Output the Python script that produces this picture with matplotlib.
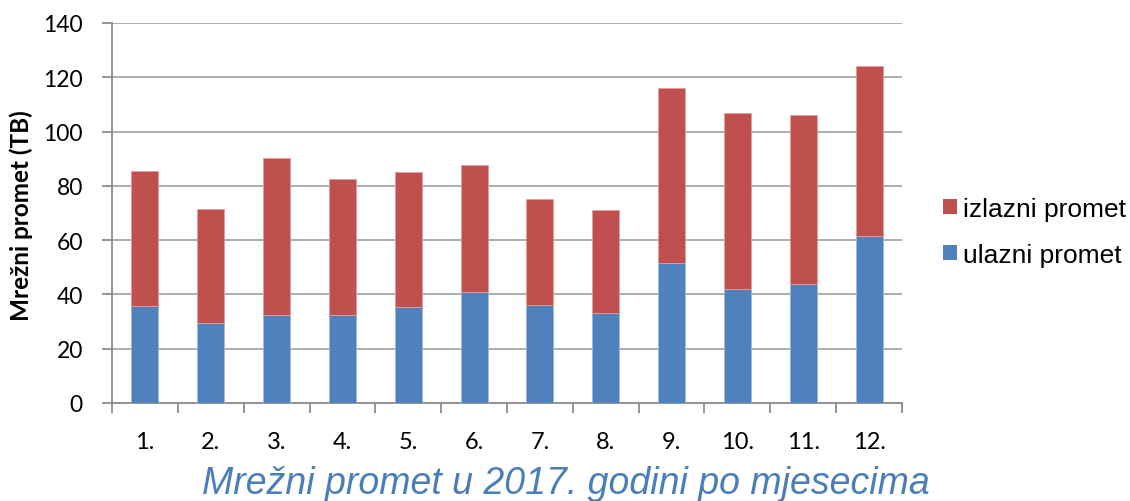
import matplotlib
matplotlib.use("Agg")
import matplotlib.pyplot as plt
from matplotlib.patches import Patch
import numpy as np

months = ["1.", "2.", "3.", "4.", "5.", "6.", "7.", "8.", "9.", "10.", "11.", "12."]
ulazni = [35.7, 29.5, 32.6, 32.4, 35.4, 40.9, 36.0, 33.3, 51.5, 41.9, 43.7, 61.4]
ukupno = [85.5, 71.5, 90.3, 82.5, 85.1, 87.7, 75.0, 71.1, 116.1, 107.0, 106.1, 124.2]
izlazni = [t - u for t, u in zip(ukupno, ulazni)]

blue = "#4F81BD"
red = "#C0504D"
grid_c = "#A6A6A6"

fig = plt.figure(figsize=(11.3, 5.02), dpi=100)
ax = fig.add_axes([112/1130, 98/502, 790/1130, 380/502])

x = np.arange(len(months))
w = 0.41
ax.bar(x, ulazni, w, color=blue, edgecolor="#9DB9DD", linewidth=0.6, zorder=3)
ax.bar(x, izlazni, w, bottom=ulazni, color=red, edgecolor="#E0A0A0", linewidth=0.6, zorder=3)

ax.set_xlim(-0.5, len(months) - 0.5)
ax.set_ylim(0, 140)
ax.set_yticks(range(0, 141, 20))
ax.yaxis.grid(True, color=grid_c, linewidth=1.3, zorder=0)
ax.set_axisbelow(True)

for s in ["top", "right"]:
    ax.spines[s].set_visible(False)
for s in ["left", "bottom"]:
    ax.spines[s].set_color("#8C8C8C")
    ax.spines[s].set_linewidth(1.3)

ax.set_xticks(x)
ax.set_xticklabels(months, fontsize=17, fontfamily="Lato")
ax.tick_params(axis="x", which="major", length=0, pad=20)
ax.set_xticks(np.arange(-0.5, len(months), 1), minor=True)
ax.tick_params(axis="x", which="minor", length=7, color="#8C8C8C", width=1.3, direction="out")
ax.tick_params(axis="y", length=7, color="#8C8C8C", width=1.3, labelsize=16.5, pad=14)
for lab in ax.get_yticklabels():
    lab.set_fontfamily("Lato")

ax.set_ylabel("Mrežni promet (TB)", fontsize=17.5, fontweight="bold", fontfamily="Lato")
ax.yaxis.set_label_coords(-0.100, 0.495)

handles = [Patch(facecolor=red, label="izlazni promet"), Patch(facecolor=blue, label="ulazni promet")]
fig.legend(handles=handles, loc="center left", bbox_to_anchor=(943/1130, 1 - 233/502),
           frameon=False, prop={"family": "Liberation Sans", "size": 19},
           handlelength=0.53, handleheight=0.53, handletextpad=0.23, labelspacing=0.83,
           borderaxespad=0, borderpad=0)

fig.text(0.501, 0.016, "Mrežni promet u 2017. godini po mjesecima", ha="center", va="baseline",
         fontsize=27, style="italic", color="#4A7EBB", fontfamily="Liberation Sans")

fig.savefig("out.png", dpi=100)
